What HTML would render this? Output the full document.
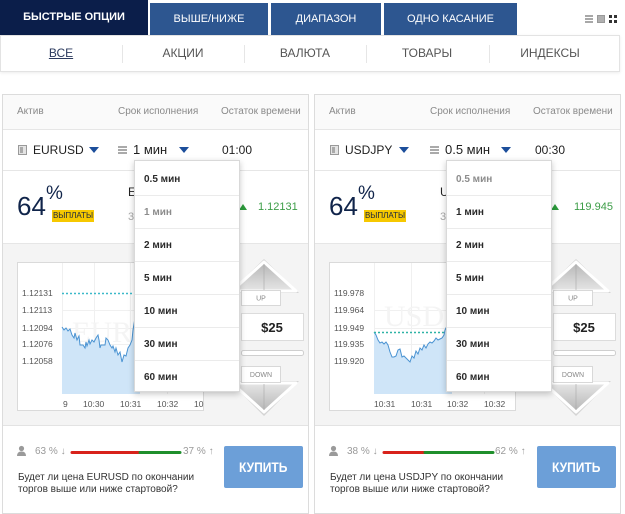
<!DOCTYPE html>
<html><head><meta charset="utf-8">
<style>
*{margin:0;padding:0;box-sizing:border-box}
body{width:625px;height:502px;overflow:hidden;background:#fff;font-family:"Liberation Sans","DejaVu Sans",sans-serif;position:relative}
.a{position:absolute;white-space:nowrap}
.tab{position:absolute;color:#fff;text-align:center;font-size:11px;white-space:nowrap}
.nav{position:absolute;top:36px;height:35px;line-height:35px;font-size:12px;color:#555;text-align:center;width:122px}
.sep{position:absolute;top:45px;width:1px;height:18px;background:#e6e6e6}
.hd{position:absolute;top:106px;font-size:10px;line-height:12px;color:#8a8a8a}
.dd{position:absolute;top:160px;width:106px;height:232px;background:#fff;border:1px solid #d9d9d9;box-shadow:0 2px 6px rgba(0,0,0,.22);z-index:5;padding-top:2px}
.dd div{height:33px;line-height:33px;border-bottom:1px solid #ebebeb;padding-left:9px;font-size:10px;font-weight:bold;color:#2a2a2a}
.dd div.g{color:#8c8c8c}
.dd div:last-child{border-bottom:none}
.arr{position:absolute;width:0;height:0;border-left:5px solid transparent;border-right:5px solid transparent;border-top:6px solid #1c4e9b}
.tri{position:absolute;width:0;height:0;border-left:4.5px solid transparent;border-right:4.5px solid transparent;border-bottom:6px solid #2b9a3b}
.btn{position:absolute;top:446px;width:79px;height:42px;background:#6c9fd8;border-radius:2px;color:#fff;font-weight:bold;font-size:14px;text-align:center;line-height:42px}
.btn span{display:inline-block;transform:scaleX(.86)}
.q{position:absolute;font-size:10px;line-height:12px;color:#333}
.pc{position:absolute;top:446px;font-size:10px;line-height:12px;color:#9a9a9a}
</style></head><body>

<div class="tab" style="left:0;top:0;width:148px;height:35px;background:#0b1e4a;line-height:35px;font-weight:bold;">БЫСТРЫЕ ОПЦИИ</div>
<div class="tab" style="left:150px;top:3px;width:118px;height:32px;background:#2d5690;line-height:33px;">ВЫШЕ/НИЖЕ</div>
<div class="tab" style="left:271px;top:3px;width:110px;height:32px;background:#2d5690;line-height:33px;">ДИАПАЗОН</div>
<div class="tab" style="left:384px;top:3px;width:133px;height:32px;background:#2d5690;line-height:33px;">ОДНО КАСАНИЕ</div>

<div class="a" style="left:585px;top:15px;width:8px;height:2px;background:#a8a8a8"></div>
<div class="a" style="left:585px;top:18px;width:8px;height:2px;background:#a8a8a8"></div>
<div class="a" style="left:585px;top:21px;width:8px;height:2px;background:#a8a8a8"></div>
<div class="a" style="left:597px;top:15px;width:8px;height:8px;background:#b0b0b0;border:1px solid #999"></div>
<div class="a" style="left:609px;top:15px;width:3px;height:3px;background:#333"></div>
<div class="a" style="left:614px;top:15px;width:3px;height:3px;background:#333"></div>
<div class="a" style="left:609px;top:20px;width:3px;height:3px;background:#333"></div>
<div class="a" style="left:614px;top:20px;width:3px;height:3px;background:#333"></div>

<div class="a" style="left:0;top:35px;width:620px;height:37px;border:1px solid #e3e3e3;box-shadow:0 1px 3px rgba(0,0,0,.08);background:#fff"></div>
<div class="nav" style="left:0;color:#2b3a5e;text-decoration:underline">ВСЕ</div>
<div class="nav" style="left:122px">АКЦИИ</div>
<div class="nav" style="left:244px">ВАЛЮТА</div>
<div class="nav" style="left:366px">ТОВАРЫ</div>
<div class="nav" style="left:489px">ИНДЕКСЫ</div>
<div class="sep" style="left:122px"></div>
<div class="sep" style="left:244px"></div>
<div class="sep" style="left:366px"></div>
<div class="sep" style="left:489px"></div>

<div class="a" style="left:2px;top:94px;width:307px;height:420px;border:1px solid #dcdcdc;background:#fff"></div>
<div class="a" style="left:314px;top:94px;width:307px;height:420px;border:1px solid #dcdcdc;background:#fff"></div>
<div class="a" style="left:3px;top:95px;width:305px;height:35px;background:#fafafa;border-bottom:1px solid #e6e6e6"></div>
<div class="a" style="left:315px;top:95px;width:305px;height:35px;background:#fafafa;border-bottom:1px solid #e6e6e6"></div>
<div class="a" style="left:3px;top:170px;width:305px;height:1px;background:#e6e6e6"></div>
<div class="a" style="left:315px;top:170px;width:305px;height:1px;background:#e6e6e6"></div>
<div class="a" style="left:3px;top:243px;width:305px;height:183px;background:#f4f4f4;border-top:1px solid #e6e6e6;border-bottom:1px solid #e3e3e3"></div>
<div class="a" style="left:315px;top:243px;width:305px;height:183px;background:#f4f4f4;border-top:1px solid #e6e6e6;border-bottom:1px solid #e3e3e3"></div>

<svg class="a" style="left:0;top:0;z-index:1" width="625" height="502" viewBox="0 0 625 502" xmlns="http://www.w3.org/2000/svg" font-family="Liberation Sans, sans-serif">
<defs>
<linearGradient id="gu" x1="0" y1="0" x2="0" y2="1"><stop offset="0" stop-color="#b5b5b5"/><stop offset="1" stop-color="#e6e6e6"/></linearGradient>
<linearGradient id="gd" x1="0" y1="0" x2="0" y2="1"><stop offset="0" stop-color="#e6e6e6"/><stop offset="1" stop-color="#b5b5b5"/></linearGradient>
</defs>
<g id="L">
<rect x="17.5" y="262.5" width="186" height="148" fill="#fff" stroke="#dadada"/>
<g stroke="#f0f0f0" stroke-width="1">
<line x1="62.5" y1="263" x2="62.5" y2="394"/><line x1="94.5" y1="263" x2="94.5" y2="394"/><line x1="130.5" y1="263" x2="130.5" y2="394"/><line x1="167.5" y1="263" x2="167.5" y2="394"/>
<line x1="62" y1="310.5" x2="203" y2="310.5"/><line x1="62" y1="328.5" x2="203" y2="328.5"/><line x1="62" y1="344.5" x2="203" y2="344.5"/><line x1="62" y1="361.5" x2="203" y2="361.5"/>
</g>
<text x="72" y="342" font-family="Liberation Serif, serif" font-size="30" fill="#f4f4f4">EUR</text>
<g font-size="8.5" fill="#555">
<text x="22" y="296">1.12131</text><text x="22" y="313">1.12113</text><text x="22" y="331">1.12094</text><text x="22" y="347">1.12076</text><text x="22" y="364">1.12058</text>
<text x="63" y="407">9</text><text x="83" y="407">10:30</text><text x="120" y="407">10:31</text><text x="157" y="407">10:32</text><text x="194" y="407">10</text>
</g>
<polygon fill="#cfe5f8" points="62,327 64,330 66,328 68,331 70,329 72,335 74,338 75,333 77,340 79,336 80,345 83,345 85,348 86,342 87,346 89,340 90,344 92,340 94,342 96,338 98,335 99,340 100,348 101,345 103,345 105,345 106,338 108,340 110,345 112,348 113,346 115,352 116,348 118,355 120,352 122,362 124,355 126,356 128,348 130,345 132,340 133,330 135,318 140,315 140,394 62,394"/>
<polyline fill="none" stroke="#4a93d2" stroke-width="1" points="62,327 64,330 66,328 68,331 70,329 72,335 74,338 75,333 77,340 79,336 80,345 83,345 85,348 86,342 87,346 89,340 90,344 92,340 94,342 96,338 98,335 99,340 100,348 101,345 103,345 105,345 106,338 108,340 110,345 112,348 113,346 115,352 116,348 118,355 120,352 122,362 124,355 126,356 128,348 130,345 132,340 133,330 135,318 140,315"/>
<line x1="62" y1="293.5" x2="202" y2="293.5" stroke="#3cb9c9" stroke-width="1.5" stroke-dasharray="2,2"/>
<polygon points="229,293 264,259 299,293" fill="#d4d4d4"/>
<polygon points="232,291 264,262 296,291" fill="url(#gu)" stroke="#fff" stroke-width="3" stroke-linejoin="round"/>
<line x1="264" y1="264" x2="264" y2="290" stroke="#a8a8a8" stroke-width="1" opacity=".6"/>
<rect x="241.5" y="290.5" width="39" height="15" fill="#fff" stroke="#d8d8d8"/>
<text x="261" y="300.5" font-size="7" fill="#888" text-anchor="middle">UP</text>
<rect x="241.5" y="313.5" width="62" height="27" fill="#fff" stroke="#dcdcdc"/>
<text x="272" y="332" font-size="13" font-weight="bold" fill="#222" text-anchor="middle">$25</text>
<rect x="241.5" y="350.5" width="62" height="5" rx="2" fill="#fff" stroke="#cfcfcf"/>
<polygon points="229,381 299,381 264,416" fill="#d4d4d4"/>
<polygon points="232,383 296,383 264,412" fill="url(#gd)" stroke="#fff" stroke-width="3" stroke-linejoin="round"/>
<line x1="264" y1="384" x2="264" y2="410" stroke="#a8a8a8" stroke-width="1" opacity=".6"/>
<rect x="241.5" y="366.5" width="39" height="16" fill="#fff" stroke="#d8d8d8"/>
<text x="261" y="377" font-size="7" fill="#888" text-anchor="middle">DOWN</text>
<circle cx="21.5" cy="448.5" r="2.6" fill="#9a9a9a"/>
<path d="M17 456 Q17 451.5 21.5 451.5 Q26 451.5 26 456 Z" fill="#9a9a9a"/>
<line x1="72" y1="452.5" x2="140" y2="452.5" stroke="#d8221b" stroke-width="3" stroke-linecap="round"/>
<line x1="140" y1="452.5" x2="180" y2="452.5" stroke="#1f8f2c" stroke-width="3" stroke-linecap="round"/>
</g>

<g id="R">
<rect x="329.5" y="262.5" width="186" height="148" fill="#fff" stroke="#dadada"/>
<g stroke="#f0f0f0" stroke-width="1">
<line x1="374.5" y1="263" x2="374.5" y2="394"/><line x1="411.5" y1="263" x2="411.5" y2="394"/><line x1="447.5" y1="263" x2="447.5" y2="394"/><line x1="484.5" y1="263" x2="484.5" y2="394"/>
<line x1="374" y1="310.5" x2="515" y2="310.5"/><line x1="374" y1="328.5" x2="515" y2="328.5"/><line x1="374" y1="344.5" x2="515" y2="344.5"/><line x1="374" y1="361.5" x2="515" y2="361.5"/>
</g>
<text x="384" y="326" font-family="Liberation Serif, serif" font-size="30" fill="#f4f4f4">USD</text>
<g font-size="8.5" fill="#555">
<text x="334" y="296">119.978</text><text x="334" y="313">119.964</text><text x="334" y="331">119.949</text><text x="334" y="347">119.935</text><text x="334" y="364">119.920</text>
<text x="374" y="407">10:31</text><text x="411" y="407">10:31</text><text x="447" y="407">10:32</text><text x="484" y="407">10:32</text>
</g>
<polygon fill="#cfe5f8" points="374,332 376,335 378,340 380,343 382,342 384,344 386,342 388,345 390,352 392,357 394,357 396,356 398,350 400,349 402,357 404,356 406,358 408,360 410,362 412,356 414,358 416,351 418,354 420,348 422,350 424,345 426,348 428,344 430,342 432,343 434,341 436,338 438,340 440,339 442,338 444,335 445,330 447,326 452,326 452,394 374,394"/>
<polyline fill="none" stroke="#4a93d2" stroke-width="1" points="374,332 376,335 378,340 380,343 382,342 384,344 386,342 388,345 390,352 392,357 394,357 396,356 398,350 400,349 402,357 404,356 406,358 408,360 410,362 412,356 414,358 416,351 418,354 420,348 422,350 424,345 426,348 428,344 430,342 432,343 434,341 436,338 438,340 440,339 442,338 444,335 445,330 447,326 452,326"/>
<line x1="374" y1="332.5" x2="514" y2="332.5" stroke="#2fb3a6" stroke-width="1.5" stroke-dasharray="2,2"/>
<polygon points="541,293 576,259 611,293" fill="#d4d4d4"/>
<polygon points="544,291 576,262 608,291" fill="url(#gu)" stroke="#fff" stroke-width="3" stroke-linejoin="round"/>
<line x1="576" y1="264" x2="576" y2="290" stroke="#a8a8a8" stroke-width="1" opacity=".6"/>
<rect x="553.5" y="290.5" width="39" height="15" fill="#fff" stroke="#d8d8d8"/>
<text x="573" y="300.5" font-size="7" fill="#888" text-anchor="middle">UP</text>
<rect x="553.5" y="313.5" width="62" height="27" fill="#fff" stroke="#dcdcdc"/>
<text x="584" y="332" font-size="13" font-weight="bold" fill="#222" text-anchor="middle">$25</text>
<rect x="553.5" y="350.5" width="62" height="5" rx="2" fill="#fff" stroke="#cfcfcf"/>
<polygon points="541,381 611,381 576,416" fill="#d4d4d4"/>
<polygon points="544,383 608,383 576,412" fill="url(#gd)" stroke="#fff" stroke-width="3" stroke-linejoin="round"/>
<line x1="576" y1="384" x2="576" y2="410" stroke="#a8a8a8" stroke-width="1" opacity=".6"/>
<rect x="553.5" y="366.5" width="39" height="16" fill="#fff" stroke="#d8d8d8"/>
<text x="573" y="377" font-size="7" fill="#888" text-anchor="middle">DOWN</text>
<circle cx="333.5" cy="448.5" r="2.6" fill="#9a9a9a"/>
<path d="M329 456 Q329 451.5 333.5 451.5 Q338 451.5 338 456 Z" fill="#9a9a9a"/>
<line x1="384" y1="452.5" x2="425" y2="452.5" stroke="#d8221b" stroke-width="3" stroke-linecap="round"/>
<line x1="425" y1="452.5" x2="493" y2="452.5" stroke="#1f8f2c" stroke-width="3" stroke-linecap="round"/>
</g>
</svg>

<div class="hd" style="left:17px">Актив</div>
<div class="hd" style="left:118px">Срок исполнения</div>
<div class="hd" style="left:221px">Остаток времени</div>

<div class="a" style="left:18px;top:145px;width:9px;height:10px;border:1px solid #9a9a9a;background:#e4e4e4"></div>
<div class="a" style="left:20px;top:147px;width:3px;height:6px;background:#aaa"></div>
<div class="a" style="left:33px;top:143px;font-size:12px;line-height:14px;color:#1e1e1e">EURUSD</div>
<div class="arr" style="left:89px;top:147px"></div>
<div class="a" style="left:118px;top:146px;width:9px;height:2px;background:#aaa"></div>
<div class="a" style="left:118px;top:149px;width:9px;height:2px;background:#aaa"></div>
<div class="a" style="left:118px;top:152px;width:9px;height:2px;background:#aaa"></div>
<div class="a" style="left:133px;top:142px;font-size:13px;line-height:15px;color:#1e1e1e">1 мин</div>
<div class="arr" style="left:179px;top:147px"></div>
<div class="a" style="left:222px;top:143px;font-size:12px;line-height:14px;color:#1e1e1e">01:00</div>

<div class="a" style="left:17px;top:193px;font-size:26px;line-height:26px;color:#10244a">64</div>
<div class="a" style="left:46px;top:184px;font-size:19px;line-height:19px;color:#10244a">%</div>
<div class="a" style="left:52px;top:210px;width:42px;height:12px;background:#f6c800;font-size:8px;line-height:12px;color:#1b2540;text-align:center">ВЫПЛАТЫ</div>
<div class="a" style="left:128px;top:185px;font-size:12px;line-height:14px;color:#222">EURUSD</div>
<div class="a" style="left:128px;top:211px;font-size:11px;line-height:13px;color:#aaa">3 сек</div>
<div class="tri" style="left:239px;top:204px"></div>
<div class="a" style="left:258px;top:200px;font-size:11px;line-height:14px;color:#3c9d47">1.12131</div>

<div class="pc" style="left:35px">63 % ↓</div>
<div class="pc" style="left:183px">37 % ↑</div>
<div class="btn" style="left:224px"><span>КУПИТЬ</span></div>
<div class="q" style="left:18px;top:472px">Будет ли цена EURUSD по окончании</div>
<div class="q" style="left:18px;top:484px">торгов выше или ниже стартовой?</div>

<div class="dd" style="left:134px">
<div>0.5 мин</div><div class="g">1 мин</div><div>2 мин</div><div>5 мин</div><div>10 мин</div><div>30 мин</div><div>60 мин</div>
</div>

<div class="hd" style="left:329px">Актив</div>
<div class="hd" style="left:430px">Срок исполнения</div>
<div class="hd" style="left:533px">Остаток времени</div>

<div class="a" style="left:330px;top:145px;width:9px;height:10px;border:1px solid #9a9a9a;background:#e4e4e4"></div>
<div class="a" style="left:332px;top:147px;width:3px;height:6px;background:#aaa"></div>
<div class="a" style="left:345px;top:143px;font-size:12px;line-height:14px;color:#1e1e1e">USDJPY</div>
<div class="arr" style="left:399px;top:147px"></div>
<div class="a" style="left:430px;top:146px;width:9px;height:2px;background:#aaa"></div>
<div class="a" style="left:430px;top:149px;width:9px;height:2px;background:#aaa"></div>
<div class="a" style="left:430px;top:152px;width:9px;height:2px;background:#aaa"></div>
<div class="a" style="left:445px;top:142px;font-size:13px;line-height:15px;color:#1e1e1e">0.5 мин</div>
<div class="arr" style="left:501px;top:147px"></div>
<div class="a" style="left:535px;top:143px;font-size:12px;line-height:14px;color:#1e1e1e">00:30</div>

<div class="a" style="left:329px;top:193px;font-size:26px;line-height:26px;color:#10244a">64</div>
<div class="a" style="left:358px;top:184px;font-size:19px;line-height:19px;color:#10244a">%</div>
<div class="a" style="left:364px;top:210px;width:42px;height:12px;background:#f6c800;font-size:8px;line-height:12px;color:#1b2540;text-align:center">ВЫПЛАТЫ</div>
<div class="a" style="left:440px;top:185px;font-size:12px;line-height:14px;color:#222">USDJPY</div>
<div class="a" style="left:440px;top:211px;font-size:11px;line-height:13px;color:#aaa">3 сек</div>
<div class="tri" style="left:551px;top:204px"></div>
<div class="a" style="left:574px;top:200px;font-size:11px;line-height:14px;color:#3c9d47">119.945</div>

<div class="pc" style="left:347px">38 % ↓</div>
<div class="pc" style="left:495px">62 % ↑</div>
<div class="btn" style="left:537px"><span>КУПИТЬ</span></div>
<div class="q" style="left:330px;top:472px">Будет ли цена USDJPY по окончании</div>
<div class="q" style="left:330px;top:484px">торгов выше или ниже стартовой?</div>

<div class="dd" style="left:446px">
<div class="g">0.5 мин</div><div>1 мин</div><div>2 мин</div><div>5 мин</div><div>10 мин</div><div>30 мин</div><div>60 мин</div>
</div>

</body></html>
